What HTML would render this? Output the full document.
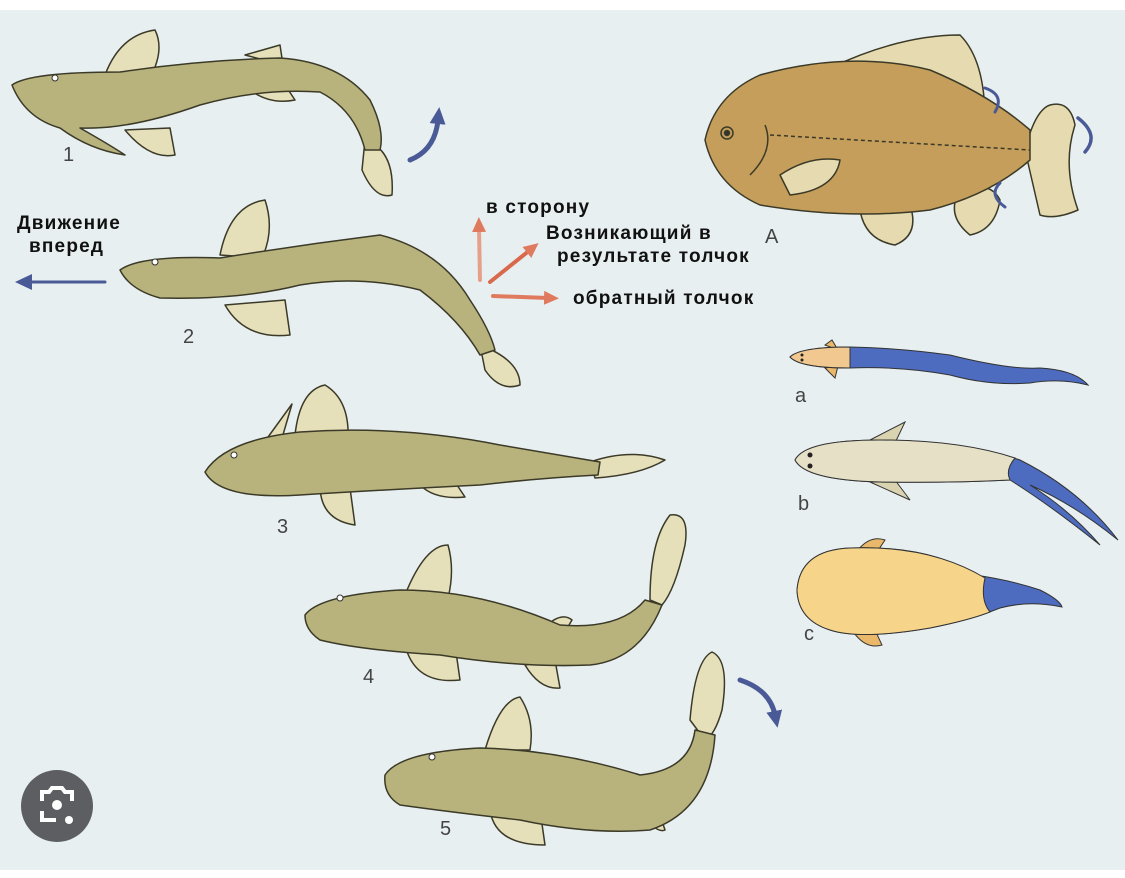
<!DOCTYPE html>
<html><head><meta charset="utf-8"><style>
html,body{margin:0;padding:0;background:#fff;}
svg{display:block;}
text{font-family:"Liberation Sans",sans-serif;}
</style></head><body>
<svg width="1125" height="878" viewBox="0 0 1125 878">
<defs>
<marker id="ab" markerUnits="userSpaceOnUse" markerWidth="18" markerHeight="18" refX="4" refY="9" orient="auto"><path d="M0,1 L17,9 L0,17 z" fill="#4a5a96"/></marker>
<marker id="ao" markerUnits="userSpaceOnUse" markerWidth="16" markerHeight="16" refX="4" refY="8" orient="auto"><path d="M0,1 L15,8 L0,15 z" fill="#e07a5f"/></marker>
</defs>
<rect x="0" y="10" width="1125" height="860" fill="#e8eff1"/>
<g stroke="#3b3a28" stroke-width="1.5" stroke-linejoin="round">
<path d="M105,75 Q120,35 155,30 Q165,50 150,78 Z" fill="#e5dfba"/>
<path d="M245,55 L280,45 L283,65 Z" fill="#e5dfba"/>
<path d="M250,90 Q270,105 295,100 L285,85 Z" fill="#e5dfba"/>
<path d="M125,130 Q150,160 175,155 L170,128 Z" fill="#e5dfba"/>
<path d="M365,140 Q395,150 392,195 Q375,200 362,170 Z" fill="#e5dfba"/>
<path d="M12,85 Q30,72 120,72 Q200,60 280,58 Q340,62 370,100 Q385,130 380,150 L365,150 Q355,110 320,92 Q260,88 200,105 Q130,130 80,128 Q110,145 125,155 Q90,150 60,128 Q25,118 12,85 Z" fill="#b8b27c"/>
<path d="M220,255 Q230,205 265,200 Q275,230 262,258 Z" fill="#e5dfba"/>
<path d="M225,305 Q245,340 290,335 L285,300 Z" fill="#e5dfba"/>
<path d="M480,345 Q520,360 520,385 Q500,392 485,370 Z" fill="#e5dfba"/>
<path d="M120,270 Q140,255 220,258 Q300,245 380,235 Q440,250 470,300 Q490,330 495,350 L480,355 Q460,320 420,290 Q360,275 300,285 Q240,300 160,298 Q130,290 120,270 Z" fill="#b8b27c"/>
<path d="M295,435 Q300,390 325,385 Q350,400 348,440 Z" fill="#e5dfba"/>
<path d="M255,455 L292,404 L280,445 Z" fill="#e5dfba"/>
<path d="M320,485 Q320,520 355,525 L350,488 Z" fill="#e5dfba"/>
<path d="M420,485 Q435,500 465,497 L455,482 Z" fill="#e5dfba"/>
<path d="M590,462 Q630,448 665,460 Q640,475 595,478 Z" fill="#e5dfba"/>
<path d="M205,472 Q225,440 300,432 Q400,425 500,445 Q560,455 600,462 L598,475 Q540,478 480,485 Q380,490 300,495 Q220,500 205,472 Z" fill="#b8b27c"/>
<path d="M405,595 Q425,545 448,545 Q455,570 448,598 Z" fill="#e5dfba"/>
<path d="M405,645 Q415,685 460,680 L455,645 Z" fill="#e5dfba"/>
<path d="M525,665 Q540,690 560,688 L555,660 Z" fill="#e5dfba"/>
<path d="M540,632 Q560,610 572,620 L560,640 Z" fill="#e5dfba"/>
<path d="M650,600 Q650,540 670,515 Q690,512 685,545 Q675,590 662,605 Z" fill="#e5dfba"/>
<path d="M305,615 Q320,595 400,590 Q480,590 560,625 Q620,630 645,600 L662,605 Q640,660 590,665 Q520,668 440,655 Q360,650 320,640 Q305,630 305,615 Z" fill="#b8b27c"/>
<path d="M485,750 Q500,700 520,697 Q535,720 530,750 Z" fill="#e5dfba"/>
<path d="M490,810 Q495,845 545,845 L540,810 Z" fill="#e5dfba"/>
<path d="M630,800 Q655,835 665,830 L655,800 Z" fill="#e5dfba"/>
<path d="M690,720 Q695,660 712,652 Q730,660 722,710 Q715,735 705,740 Z" fill="#e5dfba"/>
<path d="M385,775 Q400,752 480,748 Q560,750 640,775 Q690,770 695,730 L715,735 Q710,810 650,830 Q590,835 520,820 Q450,812 400,805 Q383,795 385,775 Z" fill="#b8b27c"/>
<path d="M830,68 Q900,35 960,35 Q985,60 985,120 L850,85 Z" fill="#e6dbb0"/>
<path d="M960,190 Q990,180 1000,200 Q995,230 970,235 Q945,215 960,190 Z" fill="#e6dbb0"/>
<path d="M860,210 Q880,200 910,205 Q920,235 895,245 Q865,240 860,210 Z" fill="#e6dbb0"/>
<path d="M1025,150 Q1035,110 1050,105 Q1070,100 1075,125 Q1062,165 1078,210 Q1055,220 1040,215 Z" fill="#e6dbb0"/>
<path d="M705,140 Q715,95 760,75 Q850,50 930,70 Q990,95 1030,130 L1030,160 Q990,195 930,210 Q850,220 760,205 Q715,185 705,140 Z" fill="#c49e5a"/>
<path d="M780,175 Q810,155 840,160 Q835,190 790,195 Z" fill="#e6dbb0"/>
<path d="M765,125 Q775,150 750,175" fill="none"/>
<path d="M770,135 L1030,150" fill="none" stroke-dasharray="4 3"/>
<circle cx="727" cy="133" r="6" fill="#c49e5a"/><circle cx="727" cy="133" r="2.5" fill="#333"/>
</g>
<g fill="#fff" stroke="#333"><circle cx="55" cy="78" r="3"/><circle cx="155" cy="262" r="3"/><circle cx="234" cy="455" r="3"/><circle cx="340" cy="598" r="3"/><circle cx="432" cy="757" r="3"/></g>
<g stroke="#333" stroke-width="1">
<path d="M825,345 L832,340 L838,350 Z M825,368 L835,378 L838,366 Z" fill="#e9b86a"/>
<path d="M790,357 Q800,347 850,347 Q900,348 950,355 Q1010,370 1040,368 Q1075,370 1088,385 Q1060,378 1030,383 Q990,386 950,375 Q900,366 850,368 Q800,368 790,357 Z" fill="#4d6bbf"/>
<path d="M790,357 Q800,347 850,347 L850,368 Q800,368 790,357 Z" fill="#f1c890"/>
<path d="M870,440 L905,422 L895,443 Z M870,482 L910,500 L895,480 Z" fill="#d9d3b0"/>
<path d="M795,460 Q805,440 880,440 Q960,440 1020,460 Q1080,490 1118,540 Q1075,505 1030,485 Q1070,510 1100,545 Q1050,505 1010,480 Q950,483 880,482 Q805,480 795,460 Z" fill="#4d6bbf"/>
<path d="M795,460 Q805,440 880,440 Q960,440 1015,458 Q1005,470 1010,480 Q950,483 880,482 Q805,480 795,460 Z" fill="#e6e0c6"/>
<path d="M858,550 Q870,535 885,540 L875,555 Z M852,630 Q865,650 882,645 L875,630 Z" fill="#e9b86a"/>
<path d="M797,590 Q800,550 850,548 Q930,545 975,575 Q1010,580 1040,590 Q1060,600 1062,607 Q1030,600 1000,608 Q970,620 930,628 Q860,640 830,630 Q798,620 797,590 Z" fill="#4d6bbf"/>
<path d="M797,590 Q800,550 850,548 Q930,545 985,578 Q980,600 990,612 Q970,620 930,628 Q860,640 830,630 Q798,620 797,590 Z" fill="#f6d58b"/>
</g>
<circle cx="802" cy="355" r="1.5" fill="#222"/><circle cx="802" cy="360" r="1.5" fill="#222"/>
<circle cx="810" cy="455" r="2.5" fill="#222"/><circle cx="810" cy="466" r="2.5" fill="#222"/>
<g fill="none" stroke-linecap="round">
<path d="M410,160 Q435,150 438,120" stroke="#4a5a96" stroke-width="5" marker-end="url(#ab)"/>
<path d="M740,680 Q770,690 775,715" stroke="#4a5a96" stroke-width="5" marker-end="url(#ab)"/>
<path d="M105,282 L28,282" stroke="#4a5a96" stroke-width="3" marker-end="url(#ab)"/>
<path d="M480,280 L479,228" stroke="#e6a08a" stroke-width="4" marker-end="url(#ao)"/>
<path d="M490,282 L530,250" stroke="#d9694c" stroke-width="4" marker-end="url(#ao)"/>
<path d="M493,296 L548,298" stroke="#e07a5f" stroke-width="4" marker-end="url(#ao)"/>
<path d="M985,88 Q1005,95 995,112" stroke="#4a5a96" stroke-width="3"/>
<path d="M1078,118 Q1100,135 1085,152" stroke="#4a5a96" stroke-width="3.5"/>
<path d="M1000,183 Q988,195 1005,207" stroke="#4a5a96" stroke-width="3"/>
</g>
<g fill="#444" font-size="20">
<text x="63" y="161">1</text><text x="183" y="343">2</text><text x="277" y="533">3</text><text x="363" y="683">4</text><text x="440" y="835">5</text>
<text x="765" y="243">A</text><text x="795" y="402">a</text><text x="798" y="510">b</text><text x="804" y="640">c</text>
</g>
<g fill="#111" font-size="19" font-weight="bold" letter-spacing="1.2">
<text x="17" y="229">Движение</text><text x="29" y="252">вперед</text>
<text x="486" y="213">в сторону</text>
<text x="546" y="239">Возникающий в</text><text x="557" y="262">результате толчок</text>
<text x="573" y="304">обратный толчок</text>
</g>
<circle cx="57" cy="806" r="36" fill="#5c5e61"/>
<path d="M42,801 v-9 h7 l3,-4 h10 l3,4 h7 v9 M42,811 v9 h14" fill="none" stroke="#fff" stroke-width="4"/>
<circle cx="57" cy="805" r="5" fill="#fff"/><circle cx="69" cy="820" r="4" fill="#fff"/>
</svg>
</body></html>
